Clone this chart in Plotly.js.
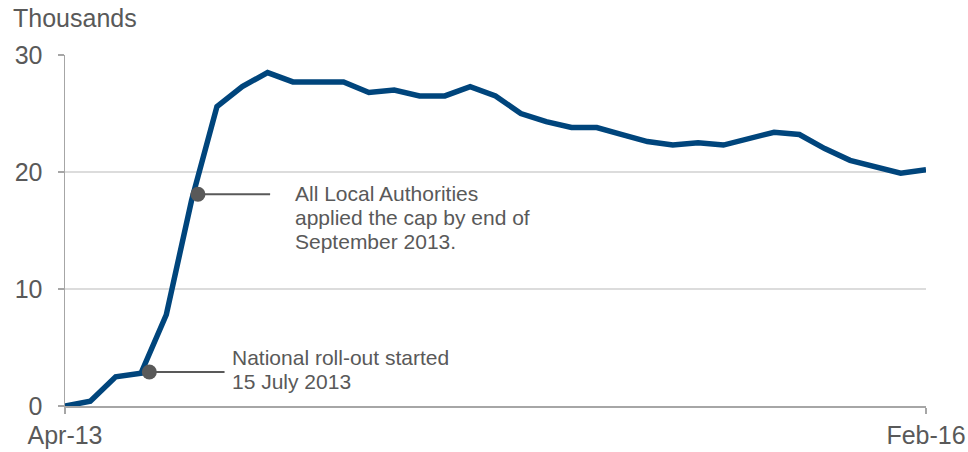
<!DOCTYPE html>
<html>
<head>
<meta charset="utf-8">
<script src="https://cdn.plot.ly/plotly-3.0.1.min.js"></script>
<style>html,body{margin:0;padding:0;background:#fff;}#chart{width:968px;height:452px;}</style>
</head>
<body>
<div id="chart"></div>
<script>
// Months Apr-13 .. Feb-16
const months = ["Apr-13","May-13","Jun-13","Jul-13","Aug-13","Sep-13","Oct-13","Nov-13","Dec-13",
  "Jan-14","Feb-14","Mar-14","Apr-14","May-14","Jun-14","Jul-14","Aug-14","Sep-14","Oct-14","Nov-14","Dec-14",
  "Jan-15","Feb-15","Mar-15","Apr-15","May-15","Jun-15","Jul-15","Aug-15","Sep-15","Oct-15","Nov-15","Dec-15",
  "Jan-16","Feb-16"];
// Households capped (thousands)
const capped = [0.0,0.4,2.5,2.8,7.8,17.6,25.6,27.3,28.5,
  27.7,27.7,27.7,26.8,27.0,26.5,26.5,27.3,26.5,25.0,24.3,23.8,
  23.8,23.2,22.6,22.3,22.5,22.3,22.9,23.4,23.2,22.0,21.0,20.5,
  19.9,20.2];
const tickLabels = ["Apr-13","Feb-16"];
const yTicks = [0,10,20,30];

// Annotation events (x as fractional month index, y in thousands)
const eventX = [3.33, 5.25];
const eventY = [2.9, 18.1];
const eventLineEnd = [6.3, 8.1];
const eventLines = [["National roll-out started","15 July 2013"],
  ["All Local Authorities","applied the cap by end of","September 2013."]];
const eventTextX = [6.52, 9.0];
const eventFirstShift = [15, 1];

const xIdx = months.map((_, i) => i);
const grey = "#595959";
const FONT = "Liberation Sans, Arial, sans-serif";

const traces = [];
for (let i = 0; i < eventX.length; i++) {
  traces.push({x:[eventX[i], eventLineEnd[i]], y:[eventY[i], eventY[i]], mode:"lines",
    line:{color:grey, width:2}, hoverinfo:"skip", showlegend:false});
}
traces.push({x:xIdx, y:capped, mode:"lines", line:{color:"#00457c", width:5.5}, showlegend:false});
traces.push({x:eventX, y:eventY, mode:"markers", marker:{color:grey, size:15}, showlegend:false});

const annotations = [];
eventLines.forEach((lines, i) => {
  lines.forEach((t, j) => {
    annotations.push({x:eventTextX[i], y:eventY[i], xref:"x", yref:"y", text:t, showarrow:false,
      xanchor:"left", yanchor:"middle", align:"left", yshift:eventFirstShift[i] - 24*j,
      font:{family:FONT, size:21, color:grey}});
  });
});
annotations.push({x:0, y:1, xref:"paper", yref:"paper", xanchor:"left", yanchor:"middle",
  xshift:-54, yshift:37, text:"Thousands", showarrow:false,
  font:{family:FONT, size:25, color:grey}});

const layout = {
  width:968, height:452,
  margin:{l:65, r:42, t:55, b:46},
  paper_bgcolor:"#fff", plot_bgcolor:"#fff",
  font:{family:FONT, color:grey, size:25},
  xaxis:{range:[0, months.length-1], tickvals:[0, months.length-1], ticktext:tickLabels,
    showgrid:false, zeroline:false, showline:true, linecolor:"#a6a6a6", linewidth:1.5,
    ticks:"outside", ticklen:6, tickcolor:"#a6a6a6", tickwidth:1.5,
    tickfont:{size:25, color:grey}, fixedrange:true},
  yaxis:{range:[0,30], tickvals:yTicks, showgrid:true, gridcolor:"#dcdcdc", gridwidth:1.5,
    zeroline:false, showline:true, linecolor:"#a6a6a6", linewidth:1.5,
    ticks:"outside", ticklen:6, tickcolor:"#a6a6a6", tickwidth:1.5, ticklabelstandoff:10,
    tickfont:{size:25, color:grey}, fixedrange:true},
  annotations: annotations,
  showlegend:false
};

Plotly.newPlot("chart", traces, layout, {staticPlot:true, displayModeBar:false});
</script>
</body>
</html>
